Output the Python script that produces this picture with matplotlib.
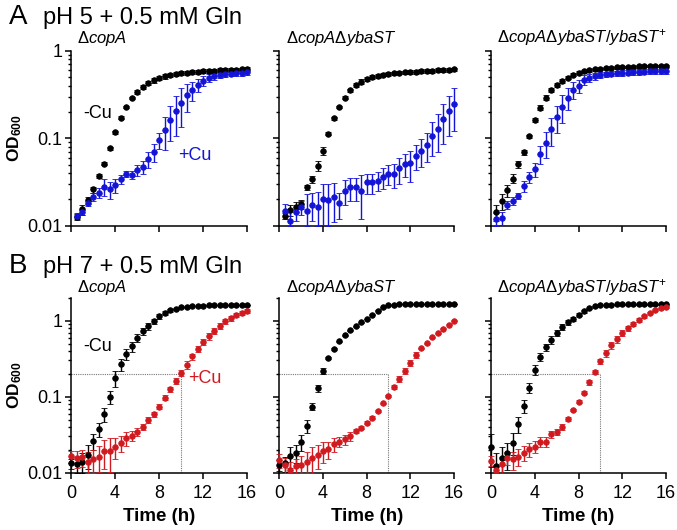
import matplotlib
matplotlib.use('Agg')
import matplotlib.pyplot as plt
from matplotlib.ticker import LogLocator, NullFormatter, FuncFormatter

plt.rcParams['font.family'] = ['Liberation Sans', 'DejaVu Sans']
plt.rcParams['mathtext.fontset'] = 'custom'
plt.rcParams['mathtext.rm'] = 'Liberation Sans'
plt.rcParams['mathtext.it'] = 'Liberation Sans:italic'
plt.rcParams['mathtext.bf'] = 'Liberation Sans:bold'

# time points (h)
t_top = [0.5, 1.0, 1.5, 2.0, 2.5, 3.0, 3.5, 4.0, 4.5, 5.0, 5.5, 6.0, 6.5, 7.0, 7.5, 8.0,
         8.5, 9.0, 9.5, 10.0, 10.5, 11.0, 11.5, 12.0, 12.5, 13.0, 13.5, 14.0, 14.5, 15.0, 15.5, 16.0]
t_bot = [0.0] + t_top

strains = [r'$\mathit{\Delta copA}$',
           r'$\mathit{\Delta copA\Delta ybaST}$',
           r'$\mathit{\Delta copA\Delta ybaST/ybaST}^{+}$']
row_titles = ['pH 5 + 0.5 mM Gln', 'pH 7 + 0.5 mM Gln']
row_letters = ['A', 'B']

# ---- A: pH 5, -Cu (black) and +Cu (blue)
A_nocu = [
    [0.0125, 0.0154, 0.0196, 0.026, 0.037, 0.051, 0.077, 0.117, 0.173, 0.23, 0.29, 0.34, 0.39, 0.43, 0.46, 0.49,
     0.51, 0.53, 0.545, 0.555, 0.565, 0.575, 0.58, 0.585, 0.59, 0.595, 0.60, 0.605, 0.61, 0.61, 0.615, 0.62],
    [0.0131, 0.0151, 0.0165, 0.0177, 0.0274, 0.0341, 0.0485, 0.072, 0.1135, 0.169, 0.229, 0.293, 0.355, 0.408, 0.446, 0.475,
     0.50, 0.52, 0.535, 0.545, 0.555, 0.565, 0.57, 0.575, 0.58, 0.585, 0.59, 0.595, 0.60, 0.605, 0.61, 0.615],
    [0.0142, 0.019, 0.0256, 0.0347, 0.0507, 0.0689, 0.105, 0.163, 0.225, 0.293, 0.358, 0.408, 0.454, 0.496, 0.532, 0.565,
     0.585, 0.60, 0.615, 0.625, 0.635, 0.642, 0.648, 0.652, 0.656, 0.66, 0.663, 0.666, 0.668, 0.67, 0.672, 0.674],
]
A_nocu_err = [
    [0.001, 0.002, 0.002, 0.002, 0.002, 0.002, 0.003, 0.004, 0.005, 0.006, 0.01, 0.015, 0.02, 0.025, 0.03, 0.03,
     0.03, 0.03, 0.03, 0.03, 0.03, 0.03, 0.03, 0.03, 0.03, 0.03, 0.03, 0.03, 0.03, 0.03, 0.03, 0.03],
    [0.001, 0.002, 0.002, 0.002, 0.002, 0.003, 0.006, 0.007, 0.005, 0.005, 0.006, 0.01, 0.015, 0.02, 0.03, 0.025,
     0.025, 0.025, 0.025, 0.025, 0.025, 0.025, 0.025, 0.025, 0.03, 0.03, 0.03, 0.03, 0.03, 0.03, 0.03, 0.03],
    [0.003, 0.004, 0.004, 0.004, 0.005, 0.004, 0.005, 0.01, 0.015, 0.02, 0.02, 0.02, 0.02, 0.02, 0.02, 0.02,
     0.02, 0.02, 0.02, 0.02, 0.02, 0.02, 0.02, 0.02, 0.02, 0.02, 0.02, 0.02, 0.02, 0.02, 0.02, 0.02],
]
A_cu = [
    [0.0131, 0.0142, 0.018, 0.0214, 0.0238, 0.0279, 0.026, 0.0289, 0.0341, 0.0389, 0.0379, 0.0433, 0.0472, 0.0578, 0.0701, 0.0953,
     0.124, 0.164, 0.206, 0.255, 0.311, 0.355, 0.412, 0.454, 0.491, 0.515, 0.53, 0.54, 0.55, 0.555, 0.56, 0.57],
    [0.0148, 0.0114, 0.0142, 0.0162, 0.0148, 0.0174, 0.0166, 0.0202, 0.0198, 0.0211, 0.018, 0.0251, 0.0274, 0.0274, 0.0251, 0.0313,
     0.0313, 0.0327, 0.0363, 0.0389, 0.0389, 0.0452, 0.0507, 0.052, 0.063, 0.072, 0.0843, 0.107, 0.129, 0.166, 0.206, 0.25],
    [0.0119, 0.0122, 0.0174, 0.0193, 0.022, 0.0286, 0.0357, 0.0444, 0.0659, 0.0896, 0.127, 0.176, 0.229, 0.293, 0.358, 0.398,
     0.467, 0.496, 0.515, 0.53, 0.54, 0.55, 0.555, 0.56, 0.565, 0.57, 0.575, 0.578, 0.582, 0.585, 0.588, 0.59],
]
A_cu_err = [
    [0.001, 0.001, 0.001, 0.002, 0.003, 0.006, 0.006, 0.005, 0.004, 0.003, 0.004, 0.006, 0.008, 0.012, 0.017, 0.02,
     0.05, 0.07, 0.1, 0.12, 0.11, 0.09, 0.07, 0.06, 0.05, 0.045, 0.04, 0.04, 0.04, 0.04, 0.04, 0.04],
    [0.003, 0.004, 0.003, 0.003, 0.008, 0.006, 0.008, 0.01, 0.01, 0.01, 0.006, 0.008, 0.008, 0.008, 0.013, 0.008,
     0.008, 0.008, 0.01, 0.01, 0.012, 0.015, 0.015, 0.02, 0.02, 0.025, 0.03, 0.045, 0.06, 0.08, 0.1, 0.13],
    [0.002, 0.002, 0.002, 0.002, 0.002, 0.004, 0.005, 0.008, 0.015, 0.03, 0.045, 0.06, 0.08, 0.08, 0.08, 0.07,
     0.06, 0.05, 0.045, 0.04, 0.04, 0.04, 0.04, 0.04, 0.04, 0.04, 0.04, 0.04, 0.04, 0.04, 0.04, 0.04],
]

# ---- B: pH 7, -Cu (black) and +Cu (red)
B_nocu = [
    [0.0133, 0.0129, 0.014, 0.0171, 0.0262, 0.0377, 0.0588, 0.10, 0.175, 0.268, 0.363, 0.459, 0.59, 0.723, 0.842, 0.98,
     1.14, 1.26, 1.37, 1.44, 1.50, 1.53, 1.55, 1.57, 1.58, 1.59, 1.60, 1.60, 1.61, 1.61, 1.62, 1.62, 1.62],
    [0.0126, 0.0133, 0.0166, 0.0184, 0.0251, 0.0417, 0.0741, 0.129, 0.221, 0.328, 0.427, 0.534, 0.641, 0.746, 0.842, 0.95,
     1.06, 1.20, 1.36, 1.50, 1.59, 1.63, 1.65, 1.66, 1.66, 1.66, 1.66, 1.66, 1.66, 1.66, 1.66, 1.66, 1.66],
    [0.022, 0.0122, 0.0155, 0.018, 0.0249, 0.0438, 0.0757, 0.132, 0.226, 0.332, 0.45, 0.561, 0.687, 0.825, 0.95, 1.06,
     1.20, 1.33, 1.45, 1.55, 1.60, 1.62, 1.63, 1.64, 1.64, 1.64, 1.64, 1.64, 1.64, 1.64, 1.64, 1.64, 1.64],
]
B_nocu_err = [
    [0.002, 0.003, 0.004, 0.006, 0.006, 0.008, 0.012, 0.02, 0.04, 0.05, 0.06, 0.07, 0.07, 0.08, 0.08, 0.08,
     0.08, 0.07, 0.06, 0.05, 0.03, 0.01, 0.01, 0.01, 0.01, 0.01, 0.01, 0.01, 0.01, 0.01, 0.01, 0.01, 0.01],
    [0.002, 0.003, 0.005, 0.005, 0.006, 0.008, 0.008, 0.015, 0.02, 0.01, 0.01, 0.01, 0.01, 0.01, 0.01, 0.01,
     0.01, 0.01, 0.01, 0.01, 0.01, 0.01, 0.01, 0.01, 0.01, 0.01, 0.01, 0.01, 0.01, 0.01, 0.01, 0.01, 0.01],
    [0.01, 0.006, 0.006, 0.007, 0.008, 0.01, 0.015, 0.02, 0.035, 0.04, 0.05, 0.06, 0.06, 0.07, 0.07, 0.06,
     0.06, 0.05, 0.04, 0.03, 0.01, 0.01, 0.01, 0.01, 0.01, 0.01, 0.01, 0.01, 0.01, 0.01, 0.01, 0.01, 0.01],
]
B_cu = [
    [0.0166, 0.0155, 0.016, 0.014, 0.015, 0.0163, 0.0193, 0.0193, 0.022, 0.0249, 0.0284, 0.0308, 0.0347, 0.0404, 0.0495, 0.0588,
     0.0741, 0.0975, 0.126, 0.162, 0.208, 0.263, 0.339, 0.423, 0.523, 0.621, 0.738, 0.859, 0.98, 1.08, 1.20, 1.27, 1.33],
    [0.0147, 0.0126, 0.0108, 0.0122, 0.0126, 0.014, 0.0155, 0.0171, 0.0195, 0.0203, 0.0236, 0.0256, 0.0275, 0.0305, 0.0358, 0.0392,
     0.0456, 0.0531, 0.065, 0.082, 0.103, 0.133, 0.17, 0.221, 0.282, 0.356, 0.432, 0.507, 0.603, 0.687, 0.785, 0.885, 1.0],
    [0.0144, 0.0108, 0.0129, 0.0155, 0.015, 0.0163, 0.0184, 0.0203, 0.022, 0.0256, 0.0256, 0.032, 0.0347, 0.0404, 0.0505, 0.067,
     0.0863, 0.1135, 0.154, 0.212, 0.291, 0.375, 0.473, 0.573, 0.687, 0.80, 0.912, 1.03, 1.14, 1.26, 1.37, 1.45, 1.51],
]
B_cu_err = [
    [0.003, 0.004, 0.004, 0.005, 0.005, 0.006, 0.008, 0.009, 0.007, 0.006, 0.006, 0.005, 0.004, 0.004, 0.004, 0.005,
     0.006, 0.008, 0.01, 0.015, 0.02, 0.03, 0.03, 0.04, 0.05, 0.06, 0.07, 0.07, 0.08, 0.08, 0.08, 0.08, 0.08],
    [0.003, 0.003, 0.003, 0.003, 0.004, 0.005, 0.006, 0.006, 0.006, 0.005, 0.005, 0.004, 0.004, 0.004, 0.002, 0.002,
     0.002, 0.002, 0.002, 0.002, 0.004, 0.008, 0.015, 0.02, 0.025, 0.03, 0.01, 0.01, 0.01, 0.01, 0.01, 0.01, 0.01],
    [0.002, 0.002, 0.003, 0.003, 0.004, 0.004, 0.004, 0.004, 0.004, 0.004, 0.004, 0.003, 0.003, 0.004, 0.003, 0.003,
     0.004, 0.006, 0.01, 0.015, 0.02, 0.04, 0.05, 0.06, 0.06, 0.06, 0.06, 0.06, 0.05, 0.05, 0.04, 0.04, 0.03],
]

od_cut = 0.2
t_cut = 10

BLUE = '#1414d8'
RED = '#d11a20'


def draw_series(ax, t, y, err, color, ymin):
    # lower bars stop at the x axis, as in the original
    lower = [min(e, v - ymin) for v, e in zip(y, err)]
    c = ax.errorbar(t, y, yerr=[lower, err], fmt='o', color=color, ms=4.0, mew=0.6,
                    elinewidth=1.0, capsize=2.5, capthick=1.0, zorder=3)
    for art in c.get_children():
        art.set_clip_on(False)


def style_axes(ax, ylim, left, bottom):
    ax.set_yscale('log')
    ax.set_xlim(0, 16)
    ax.set_ylim(*ylim)
    ax.set_xticks([0, 4, 8, 12, 16])
    ax.yaxis.set_major_locator(LogLocator(base=10, numticks=10))
    ax.yaxis.set_minor_locator(LogLocator(base=10, subs=range(2, 10), numticks=10))
    ax.yaxis.set_minor_formatter(NullFormatter())
    ax.yaxis.set_major_formatter(FuncFormatter(lambda v, p: f'{v:g}'))
    for s in ['top', 'right']:
        ax.spines[s].set_visible(False)
    for s in ['left', 'bottom']:
        ax.spines[s].set_linewidth(1.1)
    ax.tick_params(which='major', direction='out', length=4.5, width=1.1, labelsize=13)
    ax.tick_params(axis='y', which='major', pad=1.5)
    ax.tick_params(axis='x', which='major', pad=4.5)
    ax.tick_params(which='minor', direction='out', length=2.5, width=1.0)
    if not left:
        ax.tick_params(axis='y', which='both', labelleft=False)
    if not bottom:
        ax.tick_params(axis='x', labelbottom=False)


fig = plt.figure(figsize=(6.77, 5.30), dpi=100)

lefts = [0.1049, 0.4126, 0.7253]
widths = [0.260, 0.258, 0.2585]
rows = [
    dict(bottom=0.574, ylim=(0.01, 1), nocu=A_nocu, nocu_err=A_nocu_err, cu=A_cu, cu_err=A_cu_err,
         t=t_top, color=BLUE),
    dict(bottom=0.108, ylim=(0.01, 2), nocu=B_nocu, nocu_err=B_nocu_err, cu=B_cu, cu_err=B_cu_err,
         t=t_bot, color=RED),
]

for r, row in enumerate(rows):
    ymin = row['ylim'][0]
    for i in range(3):
        ax = fig.add_axes([lefts[i], row['bottom'], widths[i], 0.330])
        if r == 1:
            ax.plot([0, t_cut], [od_cut, od_cut], ls=(0, (1, 1)), color='#777777', lw=0.8, zorder=1)
            ax.plot([t_cut, t_cut], [ymin, od_cut], ls=(0, (1, 1)), color='#777777', lw=0.8, zorder=1)
        draw_series(ax, row['t'], row['nocu'][i], row['nocu_err'][i], 'black', ymin)
        draw_series(ax, row['t'], row['cu'][i], row['cu_err'][i], row['color'], ymin)
        style_axes(ax, row['ylim'], left=(i == 0), bottom=(r == 1))
        ax.annotate(strains[i], xy=(0, 1), xycoords='axes fraction', xytext=(4.5, 6.0 if r == 0 else 4.0),
                    textcoords='offset points', fontsize=12, ha='left', va='baseline')
        if i == 0:
            ax.set_ylabel(r'$\mathbf{OD}_{\mathbf{600}}$', fontsize=12.5)
            ax.yaxis.set_label_coords(-0.265, 0.5)
            if r == 0:
                ax.text(1.1, 0.19, '-Cu', fontsize=13, color='black', va='center')
                ax.text(9.7, 0.064, '+Cu', fontsize=13, color=BLUE, va='center')
            else:
                ax.text(1.1, 0.455, '-Cu', fontsize=13, color='black', va='center')
                ax.text(10.6, 0.176, '+Cu', fontsize=13, color=RED, va='center')
        if r == 1:
            ax.set_xlabel('Time (h)', fontsize=13.5, fontweight='bold', labelpad=4)

    y_top = 1 - (24 if r == 0 else 273) / 530
    fig.text(9 / 677, y_top, row_letters[r], fontsize=20, va='baseline', ha='left')
    fig.text(43 / 677, y_top, row_titles[r], fontsize=17, va='baseline', ha='left')

fig.savefig('out.png', dpi=100)
